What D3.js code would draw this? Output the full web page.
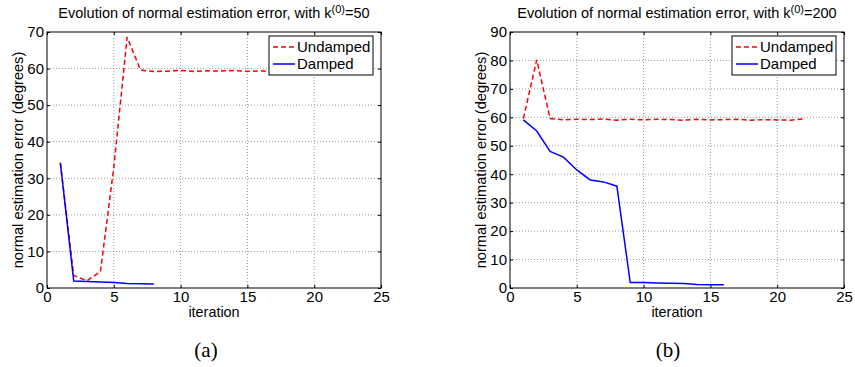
<!DOCTYPE html>
<html>
<head>
<meta charset="utf-8">
<script src="https://cdn.jsdelivr.net/npm/d3@7"></script>
<style>
body { margin: 0; background: #fff; }
</style>
</head>
<body>
<div id="svg"></div>
<script>
var widthSVG = 855;
var heightSVG = 367;

// panel (a), k(0)=50
var iterA = [1,2,3,4,5,6,7,8,9,10,11,12,13,14,15,16,17,18,19,20,21];
var undampedA = [34.2,3.4,2.0,4.5,33,68.6,59.6,59.2,59.3,59.5,59.2,59.4,59.3,59.5,59.2,59.4,59.1,59.3,59.2,59.4,59.3];
var iterDampA = [1,2,3,4,5,6,7,8];
var dampedA = [34.2,1.9,1.8,1.65,1.5,1.2,1.15,1.1];

// panel (b), k(0)=200
var iterB = [1,2,3,4,5,6,7,8,9,10,11,12,13,14,15,16,17,18,19,20,21,22];
var undampedB = [59.6,80.2,59.6,59.1,59.3,59.2,59.4,59.0,59.3,59.1,59.3,59.2,59.0,59.3,59.1,59.2,59.3,59.0,59.2,59.1,59.0,59.5];
var iterDampB = [1,2,3,4,5,6,7,8,9,10,11,12,13,14,15,16];
var dampedB = [59.1,55.2,48,46,41.5,38,37.3,35.8,1.9,1.9,1.8,1.7,1.6,1.2,1.15,1.1];

var xTicks = [0,5,10,15,20,25];
var yTicksA = [0,10,20,30,40,50,60,70];
var yTicksB = [0,10,20,30,40,50,60,70,80,90];

var sans = "'Liberation Sans', Arial, sans-serif";
var serif = "'Liberation Serif', 'Times New Roman', serif";

var svg = d3.select("#svg")
    .append("svg")
    .attr("width", widthSVG)
    .attr("height", heightSVG);

function panel(left, right, yMax, yTicks, kVal, iterU, valU, iterD, valD, legX, caption, capX){
    var top = 32, bottom = 288;
    var x = d3.scaleLinear().domain([0,25]).range([left, right]);
    var y = d3.scaleLinear().domain([0,yMax]).range([bottom, top]);
    var g = svg.append("g");

    // grid
    g.append("g").selectAll("line")
        .data(xTicks.slice(1, -1))
        .enter().append("line")
        .attr("x1", function(d){return x(d)})
        .attr("x2", function(d){return x(d)})
        .attr("y1", top).attr("y2", bottom)
        .attr("stroke", "#9a9a9a")
        .attr("stroke-dasharray", "1,2");
    g.append("g").selectAll("line")
        .data(yTicks.slice(1, -1))
        .enter().append("line")
        .attr("y1", function(d){return y(d)})
        .attr("y2", function(d){return y(d)})
        .attr("x1", left).attr("x2", right)
        .attr("stroke", "#9a9a9a")
        .attr("stroke-dasharray", "1,2");

    // axes, ticks point inward
    var xa = g.append("g")
        .attr("transform", "translate(0," + bottom + ")")
        .call(d3.axisBottom(x).tickValues(xTicks).tickSizeInner(-3).tickSizeOuter(0).tickPadding(3));
    var xt = g.append("g")
        .attr("transform", "translate(0," + top + ")")
        .call(d3.axisTop(x).tickValues(xTicks).tickSizeInner(-3).tickSizeOuter(0).tickFormat(""));
    var ya = g.append("g")
        .attr("transform", "translate(" + left + ",0)")
        .call(d3.axisLeft(y).tickValues(yTicks).tickSizeInner(-3).tickSizeOuter(0).tickPadding(3));
    var yr = g.append("g")
        .attr("transform", "translate(" + right + ",0)")
        .call(d3.axisRight(y).tickValues(yTicks).tickSizeInner(-3).tickSizeOuter(0).tickFormat(""));
    [xa, xt, ya, yr].forEach(function(a){
        a.select(".domain").remove();
        a.selectAll("line").attr("stroke", "#000");
        a.selectAll("text").attr("font-size", 15).attr("font-family", sans);
    });
    xa.selectAll("text").attr("dy", "0.71em");

    var line = d3.line()
        .x(function(d){return x(d[0])})
        .y(function(d){return y(d[1])});

    g.append("path")
        .datum(d3.zip(iterU, valU))
        .attr("d", line)
        .attr("fill", "none")
        .attr("stroke", "#ff0000")
        .attr("stroke-width", 1.5)
        .attr("stroke-dasharray", "5,3");
    g.append("path")
        .datum(d3.zip(iterD, valD))
        .attr("d", line)
        .attr("fill", "none")
        .attr("stroke", "#0000ff")
        .attr("stroke-width", 1.5);

    // box
    g.append("rect")
        .attr("x", left).attr("y", top)
        .attr("width", right - left).attr("height", bottom - top)
        .attr("fill", "none")
        .attr("stroke", "#000")
        .attr("stroke-width", 1);

    // legend
    var leg = g.append("g").attr("transform", "translate(" + legX + ",36)");
    leg.append("rect")
        .attr("width", 104).attr("height", 39)
        .attr("fill", "#fff").attr("stroke", "#000");
    var items = [["Undamped", "#ff0000", "5,3"], ["Damped", "#0000ff", null]];
    items.forEach(function(it, i){
        var yy = 11 + i * 17;
        leg.append("line")
            .attr("x1", 4).attr("x2", 26)
            .attr("y1", yy).attr("y2", yy)
            .attr("stroke", it[1])
            .attr("stroke-width", 1.5)
            .attr("stroke-dasharray", it[2]);
        leg.append("text")
            .attr("x", 28).attr("y", yy + 5)
            .attr("font-family", sans)
            .attr("font-size", 15)
            .text(it[0]);
    });

    // labels
    var t = g.append("text")
        .attr("x", (left + right) / 2)
        .attr("y", 18)
        .attr("text-anchor", "middle")
        .attr("font-family", sans)
        .attr("font-size", 14.5);
    t.append("tspan").text("Evolution of normal estimation error, with k");
    t.append("tspan").attr("dy", -5).attr("font-size", 11).text("(0)");
    t.append("tspan").attr("dy", 5).text("=" + kVal);

    g.append("text")
        .attr("x", (left + right) / 2)
        .attr("y", 317)
        .attr("text-anchor", "middle")
        .attr("font-family", sans)
        .attr("font-size", 14.4)
        .text("iteration");

    g.append("text")
        .attr("transform", "translate(" + (left - 24) + "," + ((top + bottom) / 2) + ") rotate(-90)")
        .attr("text-anchor", "middle")
        .attr("font-family", sans)
        .attr("font-size", 14.6)
        .text("normal estimation error (degrees)");

    g.append("text")
        .attr("x", capX)
        .attr("y", 357)
        .attr("text-anchor", "middle")
        .attr("font-family", serif)
        .attr("font-size", 21)
        .text(caption);
}

panel(47, 381, 70, yTicksA, 50, iterA, undampedA, iterDampA, dampedA, 269, "(a)", 206);
panel(510, 844, 90, yTicksB, 200, iterB, undampedB, iterDampB, dampedB, 732, "(b)", 668);
</script>
</body>
</html>
